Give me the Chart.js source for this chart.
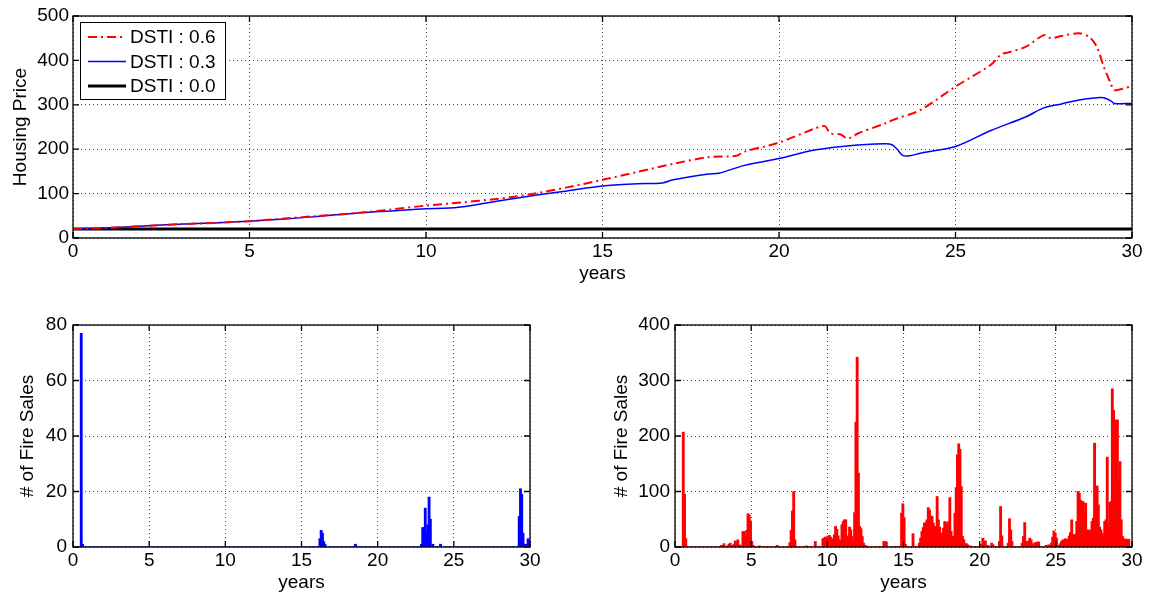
<!DOCTYPE html>
<html>
<head>
<meta charset="utf-8">
<script src="https://cdn.jsdelivr.net/npm/chart.js@4.4.0/dist/chart.umd.min.js"></script>
<style>
  body { margin: 0; background: #fff; width: 1149px; height: 597px; position: relative; overflow: hidden; }
  .pane { position: absolute; }
</style>
</head>
<body>
<div class="pane" style="left:0;top:0;width:1149px;height:292px"><canvas id="price"></canvas></div>
<div class="pane" style="left:0;top:300px;width:575px;height:297px"><canvas id="salesLow"></canvas></div>
<div class="pane" style="left:575px;top:300px;width:574px;height:297px"><canvas id="salesHigh"></canvas></div>
<script>
// housing price, DSTI 0.6
const yearsHigh = [0, 1, 2, 3, 4, 5, 6, 7, 8, 9, 10, 11, 12, 13, 14, 15, 16, 17, 18, 18.8, 19, 20, 21, 21.3, 21.45, 21.75, 21.95, 22.25, 23, 23.3, 24, 25, 26, 26.3, 26.5, 27, 27.5, 27.7, 28, 28.5, 28.8, 29, 29.2, 29.4, 29.5, 30]
const priceHigh = [20, 23, 27, 31, 34, 38, 44, 50, 56, 64, 73, 80, 88, 99, 114, 131, 149, 167, 182, 185, 194, 215, 246, 252, 236, 233, 224, 236, 258, 268, 288, 341, 390, 414, 418, 431, 457, 450, 455, 461, 452, 431, 386, 348, 333, 342]
// housing price, DSTI 0.3
const yearsMid = [0, 1, 2, 3, 4, 5, 6, 7, 8, 9, 10, 10.5, 11, 12, 13, 14, 15, 16, 16.7, 17, 18, 18.3, 19, 20, 21, 22, 23, 23.2, 23.35, 23.5, 23.7, 24, 25, 26, 27, 27.5, 28, 28.5, 29, 29.2, 29.4, 29.5, 30]
const priceMid = [20, 23, 27, 31, 34, 38, 43, 49, 56, 61, 66, 67, 70, 83, 95, 106, 117, 122, 124, 131, 144, 146, 163, 179, 198, 208, 212, 210, 200, 186, 185, 191, 206, 242, 273, 293, 302, 311, 316, 316, 309, 303, 303]
// housing price, DSTI 0.0
const yearsZero = [0, 30]
const priceZero = [20, 20]

const seriesLabels = ['DSTI : 0.6', 'DSTI : 0.3', 'DSTI : 0.0']
const yearTicks = [0, 5, 10, 15, 20, 25, 30]

// fire sales per month (month index from start, count)
const lowMonths = [6, 7, 194, 195, 196, 197, 198, 222, 274, 275, 276, 277, 278, 279, 280, 281, 283, 289, 351, 352, 353, 354, 355, 356, 358, 359]
const lowCounts = [77, 1, 3, 6, 5, 2, 1, 1, 1, 7, 7, 14, 5, 8, 18, 10, 1, 1, 11, 21, 19, 5, 1, 1, 3, 2]

const highMonths = [6, 7, 8, 36, 38, 40, 42, 43, 45, 46, 47, 48, 49, 50, 51, 53, 54, 55, 56, 57, 58, 59, 60, 61, 66, 72, 80,
  90, 91, 92, 93, 94, 103, 110,
  116, 117, 118, 119, 120, 121, 122, 123, 124, 125, 126, 127, 128, 129, 130, 131, 132, 133, 134, 135, 136, 137, 138, 139, 140, 141, 142, 143, 144, 145, 146, 147, 148, 149, 150,
  164, 165, 166, 174, 178, 179, 180, 181, 187,
  192, 193, 194, 195, 196, 197, 198, 199, 200, 201, 202, 203, 204, 205, 206, 207, 208, 209, 210, 211, 212, 213, 214, 215, 216, 217, 218, 219, 220, 221, 222, 223, 224, 225, 226, 227, 228, 229, 230, 232,
  240, 241, 242, 243, 244, 246, 249, 250, 255, 256, 257, 262, 263, 264, 265, 273, 274, 275, 276, 278, 279, 280, 281, 283, 284, 285, 286,
  292, 294, 296, 297, 298, 299, 300, 301, 303, 304, 305, 306, 307, 308, 309, 310, 311, 312, 313, 314,
  315, 316, 317, 318, 319, 320, 321, 322, 323, 324, 325, 326, 327, 328, 329, 330, 331, 332, 333, 334, 335, 336, 337, 338, 339, 340, 341, 342, 343, 344, 345, 346, 347, 348, 349, 350, 351, 352, 353, 354, 355, 356, 357, 358, 359]
const highCounts = [207, 95, 15, 3, 6, 2, 5, 7, 3, 5, 11, 8, 13, 4, 3, 28, 28, 20, 30, 60, 58, 47, 10, 3, 2, 1, 3,
  8, 30, 65, 100, 13, 2, 10,
  15, 16, 18, 17, 19, 21, 18, 15, 13, 22, 37, 32, 20, 13, 11, 40, 46, 49, 49, 8, 20, 36, 31, 19, 10, 62, 225, 342, 133, 37, 33, 19, 7, 3, 2,
  10, 10, 9, 1, 61, 78, 53, 5, 24,
  7, 16, 28, 35, 43, 44, 49, 71, 67, 56, 55, 43, 37, 28, 91, 49, 36, 25, 15, 34, 46, 44, 31, 46, 89, 28, 19, 19, 61, 107, 166, 186, 176, 109, 19, 13, 6, 6, 4, 2,
  3, 5, 16, 8, 11, 3, 7, 4, 10, 73, 20, 7, 51, 31, 10, 7, 19, 44, 10, 11, 16, 13, 6, 8, 5, 9, 9,
  3, 4, 7, 18, 29, 25, 16, 3, 6, 10, 13, 12, 15, 13, 14, 20, 26, 49, 22, 22,
  22, 46, 100, 97, 84, 70, 82, 64, 79, 31, 28, 31, 25, 46, 52, 187, 64, 110, 76, 36, 31, 25, 19, 46, 49, 162, 37, 80, 82, 285, 246, 229, 216, 229, 121, 154, 49, 19, 15, 13, 14, 14, 14]

const FONT = { family: '"Liberation Sans", Arial, sans-serif', size: 19 }
Chart.defaults.font = FONT
Chart.defaults.color = '#000'

function pairs(xs, ys) {
  return xs.map((x, i) => ({ x: x, y: ys[i] }))
}

function monthly(months, counts) {
  const out = []
  for (let i = 0; i < 360; i++) out.push({ x: (i + 0.5) / 12, y: 0 })
  months.forEach((m, i) => { out[m].y = counts[i] })
  return out
}

// matlab-like box with inward ticks, plus optional legend inside the plot
const framePlugin = {
  id: 'frame',
  afterDraw(chart, args, opts) {
    const { ctx, chartArea: a, scales } = chart
    ctx.save()
    ctx.strokeStyle = '#000'
    ctx.lineWidth = 1.3
    ctx.setLineDash([])
    ctx.strokeRect(a.left, a.top, a.right - a.left, a.bottom - a.top)
    ctx.beginPath()
    scales.x.ticks.forEach(t => {
      const px = scales.x.getPixelForValue(t.value)
      ctx.moveTo(px, a.bottom); ctx.lineTo(px, a.bottom - 6)
      ctx.moveTo(px, a.top); ctx.lineTo(px, a.top + 6)
    })
    scales.y.ticks.forEach(t => {
      const py = scales.y.getPixelForValue(t.value)
      ctx.moveTo(a.left, py); ctx.lineTo(a.left + 6, py)
      ctx.moveTo(a.right, py); ctx.lineTo(a.right - 6, py)
    })
    ctx.stroke()

    if (opts.legend) {
      const x0 = a.left + 7, y0 = a.top + 6
      ctx.fillStyle = '#fff'
      ctx.fillRect(x0, y0, 145, 77)
      ctx.lineWidth = 1
      ctx.strokeRect(x0 + 0.5, y0 + 0.5, 145, 77)
      ctx.font = `${FONT.size}px ${FONT.family}`
      ctx.textBaseline = 'middle'
      chart.data.datasets.forEach((ds, i) => {
        const ly = y0 + 15 + i * 24.5
        ctx.strokeStyle = ds.borderColor
        ctx.lineWidth = ds.borderWidth
        ctx.setLineDash(ds.borderDash || [])
        ctx.beginPath()
        ctx.moveTo(x0 + 8, ly); ctx.lineTo(x0 + 46, ly)
        ctx.stroke()
        ctx.setLineDash([])
        ctx.fillStyle = '#000'
        ctx.fillText(ds.label, x0 + 50, ly + 1)
      })
    }
    ctx.restore()
  }
}

function axes(opts) {
  return {
    x: {
      type: 'linear', min: 0, max: 30, offset: false,
      afterBuildTicks: s => { s.ticks = yearTicks.map(v => ({ value: v })) },
      afterFit: s => { s.height = opts.xh },
      ticks: { padding: 2, maxRotation: 0, autoSkip: false },
      grid: { color: '#444', lineWidth: 1, drawTicks: false, offset: false },
      border: { display: false, dash: [1, 3] },
      title: { display: true, text: 'years', padding: { top: 0, bottom: opts.titleB } }
    },
    y: {
      min: 0, max: opts.ymax,
      afterFit: s => { s.width = opts.yw },
      ticks: { stepSize: opts.ystep, padding: opts.ypad },
      grid: { color: '#444', lineWidth: 1, drawTicks: false },
      border: { display: false, dash: [1, 3] },
      title: { display: true, text: opts.ytitle, padding: { top: opts.titleL, bottom: 0 } }
    }
  }
}

new Chart(document.getElementById('price'), {
  type: 'line',
  data: {
    datasets: [
      { label: seriesLabels[0], data: pairs(yearsHigh, priceHigh), borderColor: '#ff0000', borderWidth: 2, borderDash: [9, 4, 2, 4], tension: 0.3 },
      { label: seriesLabels[1], data: pairs(yearsMid, priceMid), borderColor: '#0000ff', borderWidth: 1.5, tension: 0.3 },
      { label: seriesLabels[2], data: pairs(yearsZero, priceZero), borderColor: '#000000', borderWidth: 3 }
    ]
  },
  options: {
    responsive: true, maintainAspectRatio: false, animation: false,
    elements: { point: { radius: 0 } },
    layout: { padding: { top: 16, right: 17, left: 0, bottom: 0 } },
    plugins: { legend: { display: false }, tooltip: { enabled: false }, frame: { legend: true } },
    scales: axes({ xh: 54, titleB: 7, yw: 73, ymax: 500, ystep: 100, ypad: 4, ytitle: 'Housing Price', titleL: 9 })
  },
  plugins: [framePlugin]
})

function salesChart(id, months, counts, color, opts) {
  return new Chart(document.getElementById(id), {
    type: 'bar',
    data: {
      datasets: [{ data: monthly(months, counts), backgroundColor: color, borderWidth: 0, barThickness: 2.2 }]
    },
    options: {
      responsive: true, maintainAspectRatio: false, animation: false,
      layout: { padding: { top: 25, right: opts.right, left: 0, bottom: 0 } },
      plugins: { legend: { display: false }, tooltip: { enabled: false }, frame: { legend: false } },
      scales: axes(Object.assign({ xh: 50, titleB: 3, ytitle: '# of Fire Sales' }, opts))
    },
    plugins: [framePlugin]
  })
}

salesChart('salesLow', lowMonths, lowCounts, '#0000ff', { yw: 73, right: 45, ymax: 80, ystep: 20, ypad: 6, titleL: 16 })
salesChart('salesHigh', highMonths, highCounts, '#ff0000', { yw: 100, right: 17, ymax: 400, ystep: 100, ypad: 5, titleL: 35 })
</script>
</body>
</html>
